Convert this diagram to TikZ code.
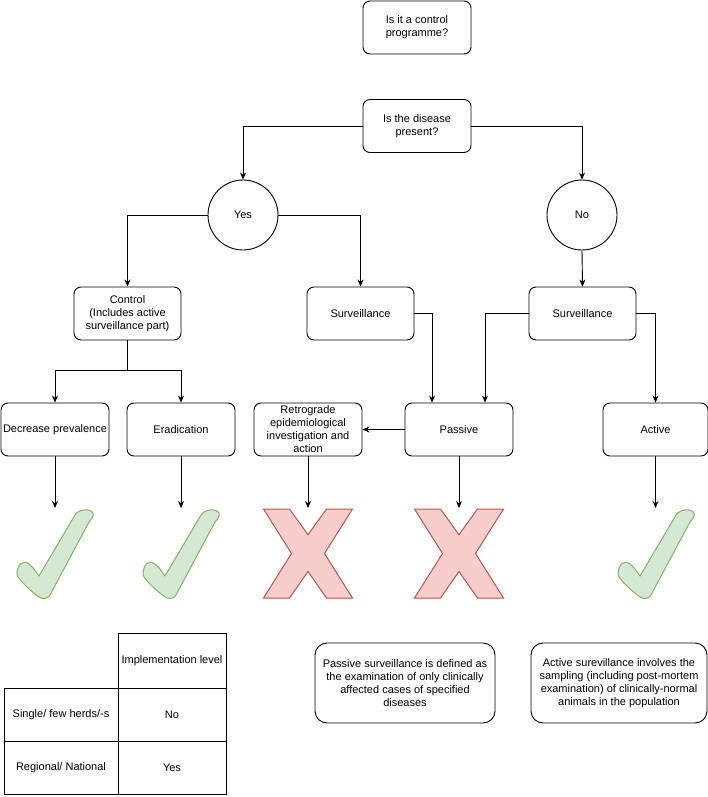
\documentclass[tikz,border=0pt]{standalone}
\usepackage{fontspec}
\setmainfont{Liberation Sans}
\usetikzlibrary{arrows.meta}
\definecolor{chkfill}{HTML}{D5E8D4}
\definecolor{chkdraw}{HTML}{82B366}
\definecolor{xfill}{HTML}{F8CECC}
\definecolor{xdraw}{HTML}{B85450}
\tikzset{
  chkmark/.pic={\draw[chk] (24,88) .. controls (18,85) and (6,74) .. (1,67) .. controls (-2,62) and (2,52) .. (8,52) .. controls (13,53) and (18,60) .. (22,66) -- (58,5) .. controls (62,-1) and (73,-2) .. (76,3) .. controls (77,6) and (74,10) .. (72,12) -- (34,83) .. controls (32,89) and (27,89) .. (24,88) -- cycle;},
  xmark/.pic={\draw[xm] (0,0) -- (26,0) -- (44.5,25.7) -- (63,0) -- (89,0) -- (61,44.5) -- (89,89) -- (63,89) -- (44.5,62.5) -- (26,89) -- (0,89) -- (28,44.5) -- cycle;}
}
\begin{document}
\begin{tikzpicture}[x=1pt,y=-1pt,
  every node/.style={font=\fontsize{11}{13}\selectfont},
  box/.style={draw,rounded corners=7pt,line width=0.9pt,minimum width=108pt,minimum height=53pt,align=center,inner sep=1pt},
  circ/.style={draw,circle,minimum size=70pt,line width=0.9pt,inner sep=0pt},
  cell/.style={draw,line width=0.9pt,minimum height=53pt,align=center,inner sep=1pt},
  arr/.style={line width=0.9pt,-{Stealth[length=7pt,width=6pt]}},
  ln/.style={line width=0.9pt},
  chk/.style={fill=chkfill,draw=chkdraw,line width=1pt,line join=round},
  xm/.style={fill=xfill,draw=xdraw,line width=1pt,line join=miter}]
\useasboundingbox (0,0) rectangle (708,797);

\node[box] (q1) at (417,27.5) {Is it a control\\programme?};
\node[box] (q2) at (417,126) {Is the disease\\present?};
\node[circ] (yes) at (243,215) {Yes};
\node[circ] (no) at (582,215) {No};
\node[box,minimum width=107pt] (ctrl) at (127.5,313.5) {Control\\(Includes active\\surveillance part)};
\node[box,minimum width=107pt] (s1) at (360.5,313.5) {Surveillance};
\node[box,minimum width=107pt] (s2) at (582.5,313.5) {Surveillance};
\node[box] (dec) at (55,429.5) {Decrease prevalence};
\node[box] (erad) at (181,429.5) {Eradication};
\node[box] (retro) at (308,429.5) {Retrograde\\epidemiological\\investigation and\\action};
\node[box] (pas) at (459,429.5) {Passive};
\node[box,minimum width=105pt] (act) at (655.5,429.5) {Active};

\draw[arr] (q2.west) -| (yes.north);
\draw[arr] (q2.east) -| (no.north);
\draw[arr] (yes.west) -| (ctrl.north);
\draw[arr] (yes.east) -| (s1.north);
\draw[arr] (no.south) -- (s2.north);
\draw[ln] (ctrl.south) -- ++(0,30) coordinate (j);
\draw[arr] (j) -| (dec.north);
\draw[arr] (j) -| (erad.north);
\draw[arr] (s1.east) -| ([xshift=-27pt]pas.north);
\draw[arr] (s2.west) -| ([xshift=26pt]pas.north);
\draw[arr] (s2.east) -| (act.north);
\draw[arr] (pas.west) -- (retro.east);

\pic at (17,510) {chkmark};
\pic at (143,510) {chkmark};
\pic at (263.5,509) {xmark};
\pic at (414.5,509) {xmark};
\pic at (618,510) {chkmark};
\coordinate (m1) at (55,508);
\coordinate (m2) at (181,508);
\coordinate (m3) at (308,508);
\coordinate (m4) at (459,508);
\coordinate (m5) at (655.5,508);
\draw[arr] (dec.south) -- (m1);
\draw[arr] (erad.south) -- (m2);
\draw[arr] (retro.south) -- (m3);
\draw[arr] (pas.south) -- (m4);
\draw[arr] (act.south) -- (m5);

\node[cell,minimum width=108pt,minimum height=55pt] (th) at (172,660.5) {Implementation level};
\node[cell,minimum width=114pt] (r1a) at (61,714.5) {Single/ few herds/-s};
\node[cell,minimum width=108pt] (r1b) at (172,714.5) {No};
\node[cell,minimum width=114pt] (r2a) at (61,767.5) {Regional/ National};
\node[cell,minimum width=108pt] (r2b) at (172,767.5) {Yes};

\node[box,minimum width=180pt,minimum height=80pt,rounded corners=12pt] (np) at (405,683) {Passive surveillance is defined as\\the examination of only clinically\\affected cases of specified\\diseases};
\node[box,minimum width=176pt,minimum height=80pt,rounded corners=12pt] (na) at (619,683) {Active surevillance involves the\\sampling (including post-mortem\\examination) of clinically-normal\\animals in the population};
\end{tikzpicture}
\end{document}
